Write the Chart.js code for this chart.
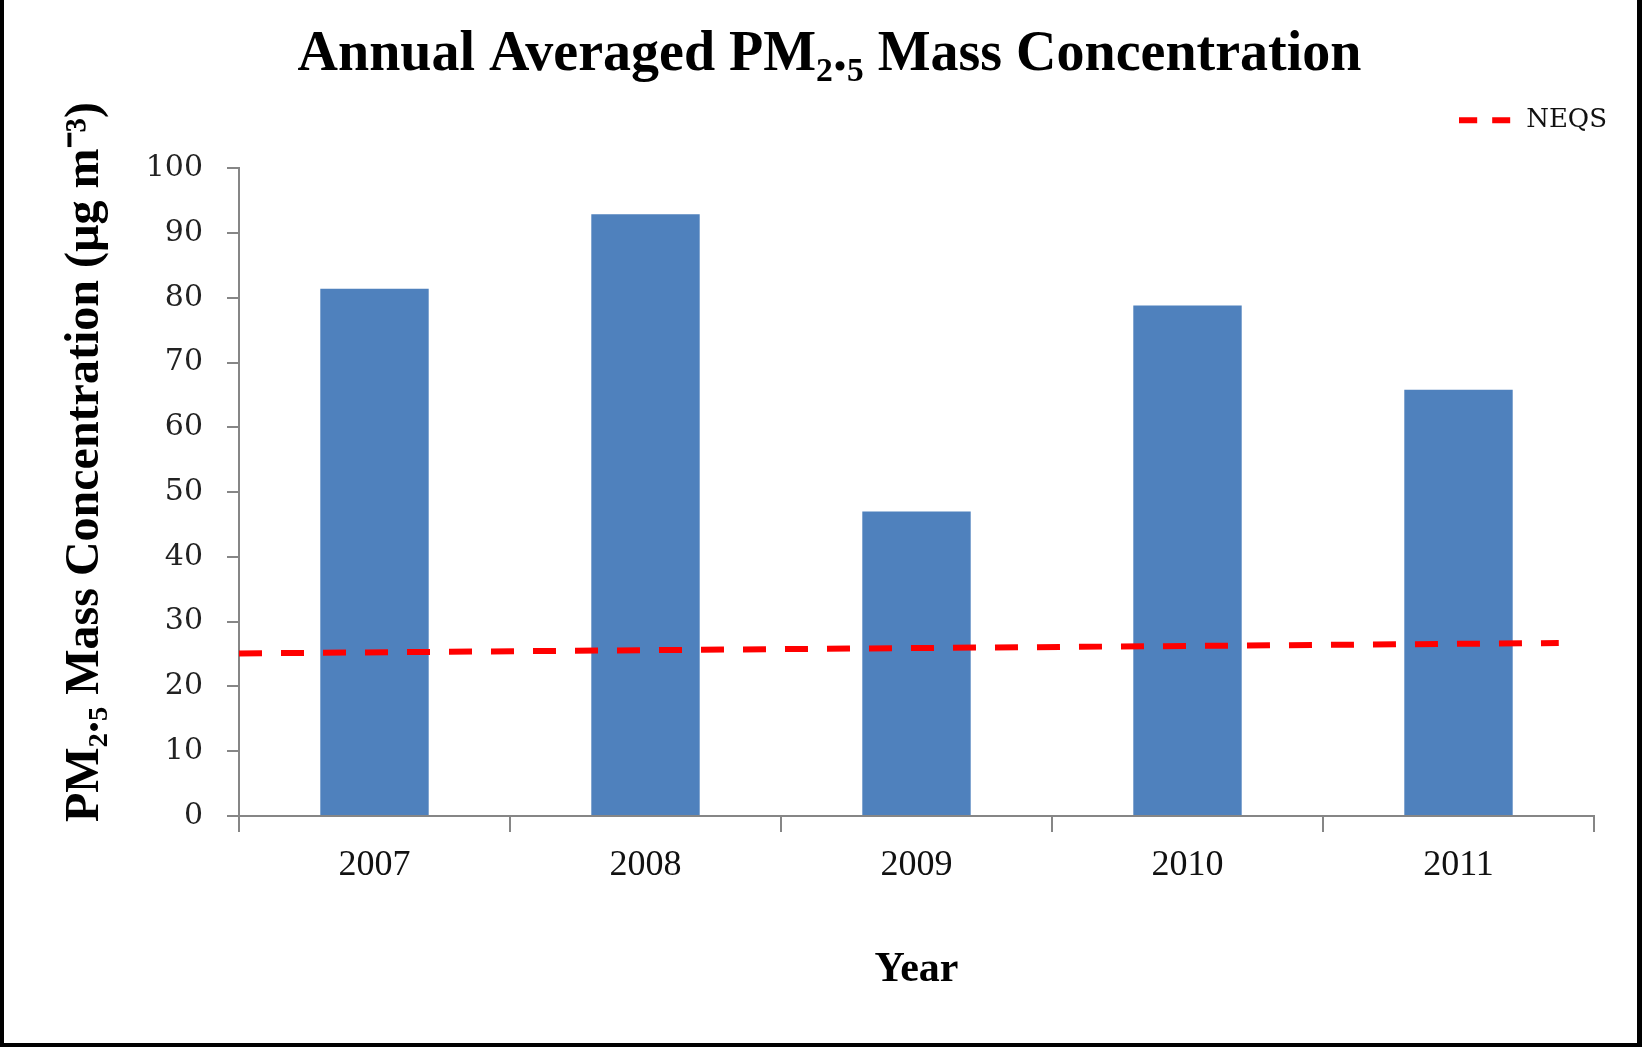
<!DOCTYPE html>
<html lang="en">
<head>
    <meta charset="UTF-8">
    <title>Annual Averaged PM2.5 Mass Concentration</title>
    <style>
        html, body {
            margin: 0;
            padding: 0;
            background: #ffffff;
        }
        .wrap {
            position: relative;
            width: 1642px;
            height: 1047px;
        }
        .frame {
            position: absolute;
            left: 0;
            top: 0;
            width: 1642px;
            height: 1047px;
            box-sizing: border-box;
            border-left: 4px solid #000;
            border-right: 5px solid #000;
            border-bottom: 4px solid #000;
            pointer-events: none;
        }
    </style>
</head>
<body>

<div class="wrap">
    <canvas id="pmChart" width="1642" height="1047"></canvas>
    <div class="frame"></div>
</div>

<script src="https://cdn.jsdelivr.net/npm/chart.js"></script>
<script>
    // data
    const years = ['2007', '2008', '2009', '2010', '2011'];
    const pmValues = [81.4, 92.9, 47.0, 78.8, 65.8];
    // NEQS reference line, start and end (x in years, y in µg m-3)
    const neqsYears = [2006.5, 2011.37];
    const neqsValues = [25.1, 26.7];
    const yTicks = [0, 10, 20, 30, 40, 50, 60, 70, 80, 90, 100];

    const axisGray = '#868686';

    // small dashed sample for the legend
    const legendLine = document.createElement('canvas');
    legendLine.width = 54;
    legendLine.height = 8;
    (function () {
        const c = legendLine.getContext('2d');
        c.strokeStyle = '#ff0000';
        c.lineWidth = 6;
        c.setLineDash([18, 15]);
        c.beginPath();
        c.moveTo(0, 4);
        c.lineTo(54, 4);
        c.stroke();
    })();

    const ctx = document.getElementById('pmChart').getContext('2d');
    const chart = new Chart(ctx, {
        data: {
            labels: years,
            datasets: [
                {
                    type: 'bar',
                    label: 'PM2.5',
                    data: pmValues,
                    backgroundColor: '#4F81BD',
                    borderWidth: 0,
                    grouped: false,
                    barPercentage: 0.4,
                    categoryPercentage: 1.0,
                    xAxisID: 'x',
                    yAxisID: 'y',
                    order: 2
                },
                {
                    type: 'line',
                    label: 'NEQS',
                    data: neqsYears.map((yr, i) => ({ x: yr, y: neqsValues[i] })),
                    borderColor: '#ff0000',
                    borderWidth: 6,
                    borderDash: [23, 19],
                    pointRadius: 0,
                    fill: false,
                    xAxisID: 'xl',
                    yAxisID: 'y2',
                    order: 1
                }
            ]
        },
        options: {
            responsive: false,
            animation: false,
            layout: {
                padding: { left: 0, right: 25, top: 0, bottom: 0 }
            },
            plugins: {
                title: {
                    display: true,
                    // leading spaces nudge the centred title right, as in the figure
                    text: '   Annual Averaged PM₂.₅ Mass Concentration',
                    color: '#000',
                    font: { family: 'Liberation Serif', size: 56, weight: 'bold' },
                    padding: { top: 22, bottom: 8 }
                },
                legend: {
                    display: true,
                    position: 'top',
                    align: 'end',
                    labels: {
                        usePointStyle: true,
                        pointStyleWidth: 54,
                        padding: 10,
                        color: '#111',
                        font: { family: 'DejaVu Serif', size: 26 },
                        generateLabels: function (chart) {
                            return [{
                                text: 'NEQS',
                                datasetIndex: 1,
                                pointStyle: legendLine,
                                fillStyle: '#ff0000',
                                strokeStyle: '#ff0000',
                                lineWidth: 0,
                                fontColor: '#111'
                            }];
                        }
                    }
                },
                tooltip: { enabled: false }
            },
            scales: {
                x: {
                    type: 'category',
                    position: 'bottom',
                    offset: true,
                    grid: {
                        display: true,
                        offset: true,
                        drawOnChartArea: false,
                        drawTicks: true,
                        tickLength: 16,
                        color: axisGray,
                        lineWidth: 2
                    },
                    border: { display: true, color: axisGray, width: 2 },
                    ticks: {
                        color: '#111',
                        font: { family: 'Liberation Serif', size: 36 },
                        padding: 12,
                        maxRotation: 0
                    },
                    title: {
                        display: true,
                        text: 'Year',
                        color: '#000',
                        font: { family: 'Liberation Serif', size: 42, weight: 'bold' },
                        padding: { top: 0, bottom: 52 }
                    },
                    afterFit: function (scale) {
                        scale.height = 231;
                    }
                },
                xl: {
                    type: 'linear',
                    position: 'top',
                    min: 2006.5,
                    max: 2011.5,
                    grid: { display: false, drawTicks: false },
                    border: { display: false },
                    ticks: { display: false },
                    afterFit: function (scale) {
                        scale.height = 25;
                    }
                },
                y: {
                    type: 'linear',
                    position: 'left',
                    min: 0,
                    max: 100,
                    afterBuildTicks: function (scale) {
                        scale.ticks = yTicks.map(v => ({ value: v }));
                    },
                    grid: {
                        display: true,
                        drawOnChartArea: false,
                        drawTicks: true,
                        tickLength: 12,
                        color: axisGray,
                        lineWidth: 2
                    },
                    border: { display: true, color: axisGray, width: 2 },
                    ticks: {
                        color: '#222',
                        font: { family: 'DejaVu Serif', size: 30 },
                        padding: 24
                    },
                    title: {
                        display: true,
                        text: '     PM₂.₅ Mass Concentration (µg m⁻³)',
                        color: '#000',
                        font: { family: 'Liberation Serif', size: 48, weight: 'bold' },
                        padding: { top: 57, bottom: 0 }
                    },
                    afterFit: function (scale) {
                        scale.width = 239;
                    }
                },
                y2: {
                    type: 'linear',
                    position: 'right',
                    min: 0,
                    max: 100,
                    grid: { display: false, drawTicks: false },
                    border: { display: false },
                    ticks: { display: false },
                    afterFit: function (scale) {
                        scale.width = 23;
                    }
                }
            }
        }
    });
</script>

</body>
</html>
